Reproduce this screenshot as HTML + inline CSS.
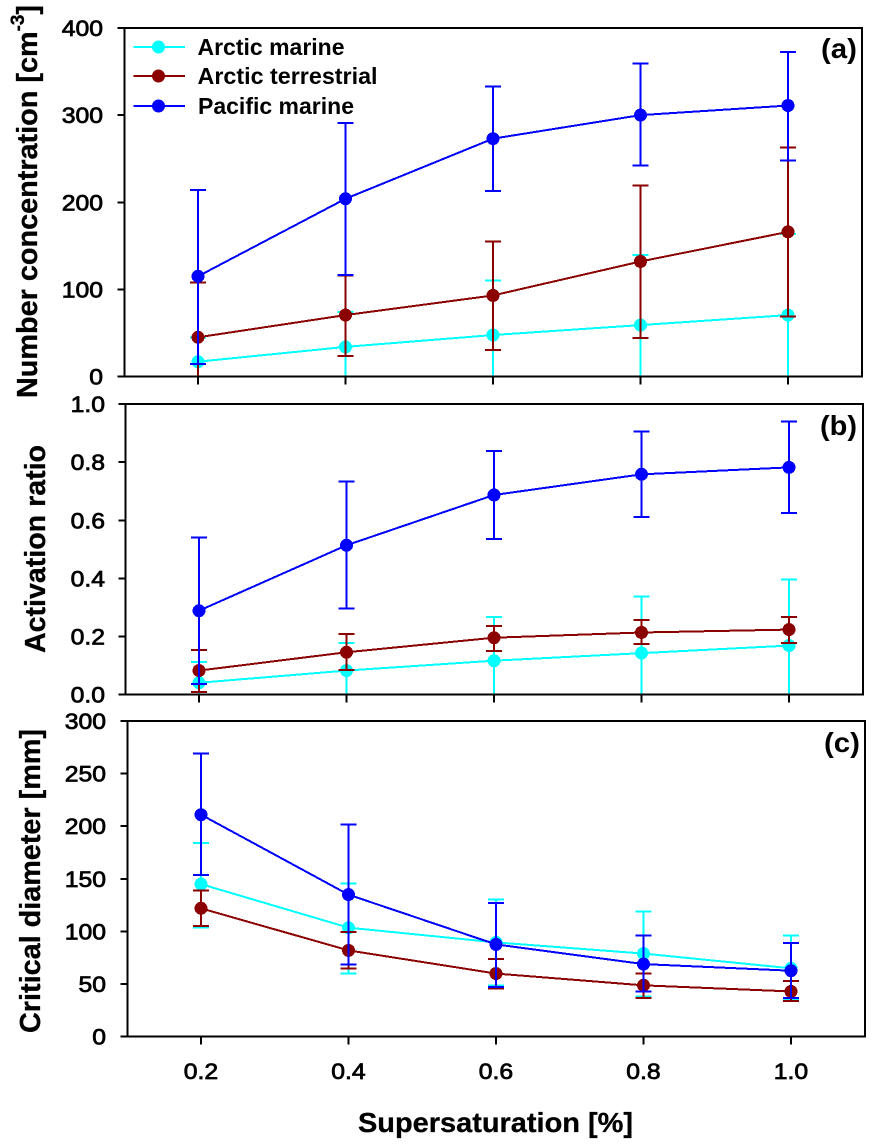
<!DOCTYPE html>
<html lang="en">
<head>
<meta charset="utf-8">
<title>Supersaturation chart</title>
<style>
html,body{margin:0;padding:0;background:#fff;}
svg{display:block;font-family:"Liberation Sans",Arial,sans-serif;font-weight:bold;fill:#000;}
#panels line,#panels rect,#panels polyline,#panels circle{shape-rendering:crispEdges;}
.tick-text{font-weight:normal;stroke:#000;stroke-width:0.75;}
</style>
</head>
<body>
<svg id="chart" width="875" height="1144" viewBox="0 0 875 1144" xmlns="http://www.w3.org/2000/svg">
  <rect x="0" y="0" width="875" height="1144" fill="#fff"/>
  <g id="panels"></g>

  <text transform="translate(37,398) rotate(-90)" font-size="29" stroke="#000" stroke-width="0.3" textLength="393" lengthAdjust="spacingAndGlyphs">Number concentration [cm<tspan font-size="19" dy="-13">-3</tspan><tspan dy="13">]</tspan></text>
  <text transform="translate(45,653) rotate(-90)" font-size="29" stroke="#000" stroke-width="0.3" textLength="208" lengthAdjust="spacingAndGlyphs">Activation ratio</text>
  <text transform="translate(40,1033) rotate(-90)" font-size="29" stroke="#000" stroke-width="0.3" textLength="304" lengthAdjust="spacingAndGlyphs">Critical diameter [mm]</text>
  <text x="358" y="1132" font-size="28" stroke="#000" stroke-width="0.3" textLength="275" lengthAdjust="spacingAndGlyphs">Supersaturation [%]</text>

  <text x="821" y="58" font-size="28" textLength="36" lengthAdjust="spacingAndGlyphs">(a)</text>
  <text x="820" y="435" font-size="28" textLength="37" lengthAdjust="spacingAndGlyphs">(b)</text>
  <text x="824" y="752" font-size="28" textLength="36" lengthAdjust="spacingAndGlyphs">(c)</text>

  <g>
    <g>
      <line x1="133.5" y1="47" x2="185" y2="47" stroke="#00ffff" stroke-width="2" shape-rendering="crispEdges"/>
      <circle cx="158.5" cy="47" r="6.5" fill="#00ffff"/>
      <text x="197.5" y="55" font-size="23" textLength="147" lengthAdjust="spacingAndGlyphs">Arctic marine</text>
    </g>
    <g>
      <line x1="133.5" y1="76" x2="185" y2="76" stroke="#8b0000" stroke-width="2" shape-rendering="crispEdges"/>
      <circle cx="158.5" cy="76" r="6.5" fill="#8b0000"/>
      <text x="197.5" y="84" font-size="23" textLength="180" lengthAdjust="spacingAndGlyphs">Arctic terrestrial</text>
    </g>
    <g>
      <line x1="133.5" y1="106" x2="185" y2="106" stroke="#0000ff" stroke-width="2" shape-rendering="crispEdges"/>
      <circle cx="158.5" cy="106" r="6.5" fill="#0000ff"/>
      <text x="198" y="114" font-size="23" textLength="156" lengthAdjust="spacingAndGlyphs">Pacific marine</text>
    </g>
  </g>
</svg>
<script>
// Shared categories and tick labels
var supersaturation = [0.2, 0.4, 0.6, 0.8, 1.0];
var xTickLabels = ['0.2', '0.4', '0.6', '0.8', '1.0'];
var yTicksA = [0, 100, 200, 300, 400];
var yTickLabelsA = ['0', '100', '200', '300', '400'];
var yTicksB = [0, 0.2, 0.4, 0.6, 0.8, 1.0];
var yTickLabelsB = ['0.0', '0.2', '0.4', '0.6', '0.8', '1.0'];
var yTicksC = [0, 50, 100, 150, 200, 250, 300];
var yTickLabelsC = ['0', '50', '100', '150', '200', '250', '300'];

// Panel (a): number concentration
var aCyanMean = [17, 34, 47.6, 59, 70.5];
var aCyanUpper = [45, 74, 110, 139.5, 163.5];
var aCyanLower = [-10, -6, -15, -21, -25];
var aRedMean = [45, 70.5, 93, 132, 166];
var aRedUpper = [108, 116, 155, 219, 262.6];
var aRedLower = [-20, 23.5, 30.5, 44, 68.6];
var aBlueMean = [115, 204, 273, 300, 311];
var aBlueUpper = [214, 291, 332.6, 359, 372.6];
var aBlueLower = [14.5, 116.5, 213, 242, 248];

// Panel (b): activation ratio
var bCyanMean = [0.041, 0.083, 0.117, 0.143, 0.169];
var bCyanUpper = [0.112, 0.178, 0.268, 0.337, 0.396];
var bCyanLower = [-0.03, -0.01, -0.03, -0.05, -0.06];
var bRedMean = [0.083, 0.146, 0.196, 0.214, 0.224];
var bRedUpper = [0.154, 0.209, 0.237, 0.257, 0.268];
var bRedLower = [0.01, 0.085, 0.150, 0.174, 0.178];
var bBlueMean = [0.289, 0.514, 0.687, 0.758, 0.782];
var bBlueUpper = [0.54, 0.733, 0.838, 0.905, 0.939];
var bBlueLower = [0.037, 0.296, 0.536, 0.611, 0.625];

// Panel (c): critical diameter
var cCyanMean = [145, 103.6, 89.6, 79, 65];
var cCyanUpper = [184, 145.4, 130.5, 118.8, 96];
var cCyanLower = [104, 60, 48.8, 38, 36];
var cRedMean = [122, 82, 60, 48.8, 43];
var cRedUpper = [138.7, 99.5, 74, 60, 53];
var cRedLower = [105, 64.6, 46, 37, 34];
var cBlueMean = [211, 135, 87.7, 69, 62.7];
var cBlueUpper = [269, 201.5, 127, 96, 89];
var cBlueLower = [153.6, 68.4, 47, 43, 37];

var NS = 'http://www.w3.org/2000/svg';
var XMIN = 0.1, XMAX = 1.1;
var CAP = 8;
var RADIUS = 6.5;

function mk(tag, attrs, parent) {
  var el = document.createElementNS(NS, tag);
  for (var k in attrs) el.setAttribute(k, attrs[k]);
  parent.appendChild(el);
  return el;
}

function drawSeries(parent, key, colour, mean, upper, lower, xs, ys) {
  var g = mk('g', {}, parent);
  
  

  var bars = mk('g', {'clip-path': parent.getAttribute('data-clip')}, g);
  
  

  mean.forEach(function (v, i) {
    var x = xs(supersaturation[i]);
    var stem = mk('line', {x1: x, x2: x, y1: ys(upper[i]), y2: ys(lower[i]), stroke: colour, 'stroke-width': 2}, bars);
    
    
    var capTop = mk('line', {x1: x - CAP, x2: x + CAP, y1: ys(upper[i]), y2: ys(upper[i]), stroke: colour, 'stroke-width': 2}, bars);
    
    
    var capBottom = mk('line', {x1: x - CAP, x2: x + CAP, y1: ys(lower[i]), y2: ys(lower[i]), stroke: colour, 'stroke-width': 2}, bars);
    
    
  });

  var pts = mean.map(function (v, i) { return xs(supersaturation[i]) + ',' + ys(v); }).join(' ');
  var line = mk('polyline', {points: pts, fill: 'none', stroke: colour, 'stroke-width': 2}, g);
  
  

  mean.forEach(function (v, i) {
    var dot = mk('circle', {cx: xs(supersaturation[i]), cy: ys(v), r: RADIUS, fill: colour}, g);
    
    
  });
}

function drawPanel(opts) {
  var root = document.getElementById('panels');
  var g = mk('g', {}, root);
  
  

  var xs = function (v) { return opts.left + (v - XMIN) / (XMAX - XMIN) * (opts.right - opts.left); };
  var ys = function (v) { return opts.bottom - (v / opts.yMax) * (opts.bottom - opts.top); };

  var clip = mk('clipPath', {id: 'clip-' + opts.id}, g);
  mk('rect', {x: opts.left, y: opts.top, width: opts.right - opts.left, height: opts.bottom - opts.top}, clip);
  g.setAttribute('data-clip', 'url(#clip-' + opts.id + ')');

  drawSeries(g, 'arctic-marine', '#00ffff', opts.cyan[0], opts.cyan[1], opts.cyan[2], xs, ys);
  drawSeries(g, 'arctic-terrestrial', '#8b0000', opts.red[0], opts.red[1], opts.red[2], xs, ys);
  drawSeries(g, 'pacific-marine', '#0000ff', opts.blue[0], opts.blue[1], opts.blue[2], xs, ys);

  var frame = mk('rect', {x: opts.left, y: opts.top, width: opts.right - opts.left, height: opts.bottom - opts.top, fill: 'none', stroke: '#000', 'stroke-width': 2}, g);
  
  

  opts.yTicks.forEach(function (v, i) {
    var y = ys(v);
    var tick = mk('line', {x1: opts.left - 7, x2: opts.left, y1: y, y2: y, stroke: '#000', 'stroke-width': 2}, g);
    
    
    var label = mk('text', {'class': 'tick-text', transform: 'translate(' + opts.labelRight + ',' + (y + 8) + ') scale(1.1,1)', 'text-anchor': 'end', 'font-size': 22.5}, g);
    
    
    label.textContent = opts.yLabels[i];
  });

  supersaturation.forEach(function (v, i) {
    var x = xs(v);
    var tick = mk('line', {x1: x, x2: x, y1: opts.bottom, y2: opts.bottom + 8, stroke: '#000', 'stroke-width': 2}, g);
    
    
    if (opts.showXLabels) {
      var label = mk('text', {'class': 'tick-text', transform: 'translate(' + x + ',1079) scale(1.1,1)', 'text-anchor': 'middle', 'font-size': 22.5}, g);
      
      
      label.textContent = xTickLabels[i];
    }
  });
}

drawPanel({
  id: 'a', left: 124.25, right: 861.75, top: 28, bottom: 376.5, yMax: 400, labelRight: 103,
  yTicks: yTicksA, yLabels: yTickLabelsA, showXLabels: false,
  cyan: [aCyanMean, aCyanUpper, aCyanLower],
  red: [aRedMean, aRedUpper, aRedLower],
  blue: [aBlueMean, aBlueUpper, aBlueLower]
});
drawPanel({
  id: 'b', left: 125.25, right: 862.75, top: 404, bottom: 694.7, yMax: 1, labelRight: 105,
  yTicks: yTicksB, yLabels: yTickLabelsB, showXLabels: false,
  cyan: [bCyanMean, bCyanUpper, bCyanLower],
  red: [bRedMean, bRedUpper, bRedLower],
  blue: [bBlueMean, bBlueUpper, bBlueLower]
});
drawPanel({
  id: 'c', left: 127.25, right: 864.75, top: 721, bottom: 1036.7, yMax: 300, labelRight: 106,
  yTicks: yTicksC, yLabels: yTickLabelsC, showXLabels: true,
  cyan: [cCyanMean, cCyanUpper, cCyanLower],
  red: [cRedMean, cRedUpper, cRedLower],
  blue: [cBlueMean, cBlueUpper, cBlueLower]
});
</script>
</body>
</html>
